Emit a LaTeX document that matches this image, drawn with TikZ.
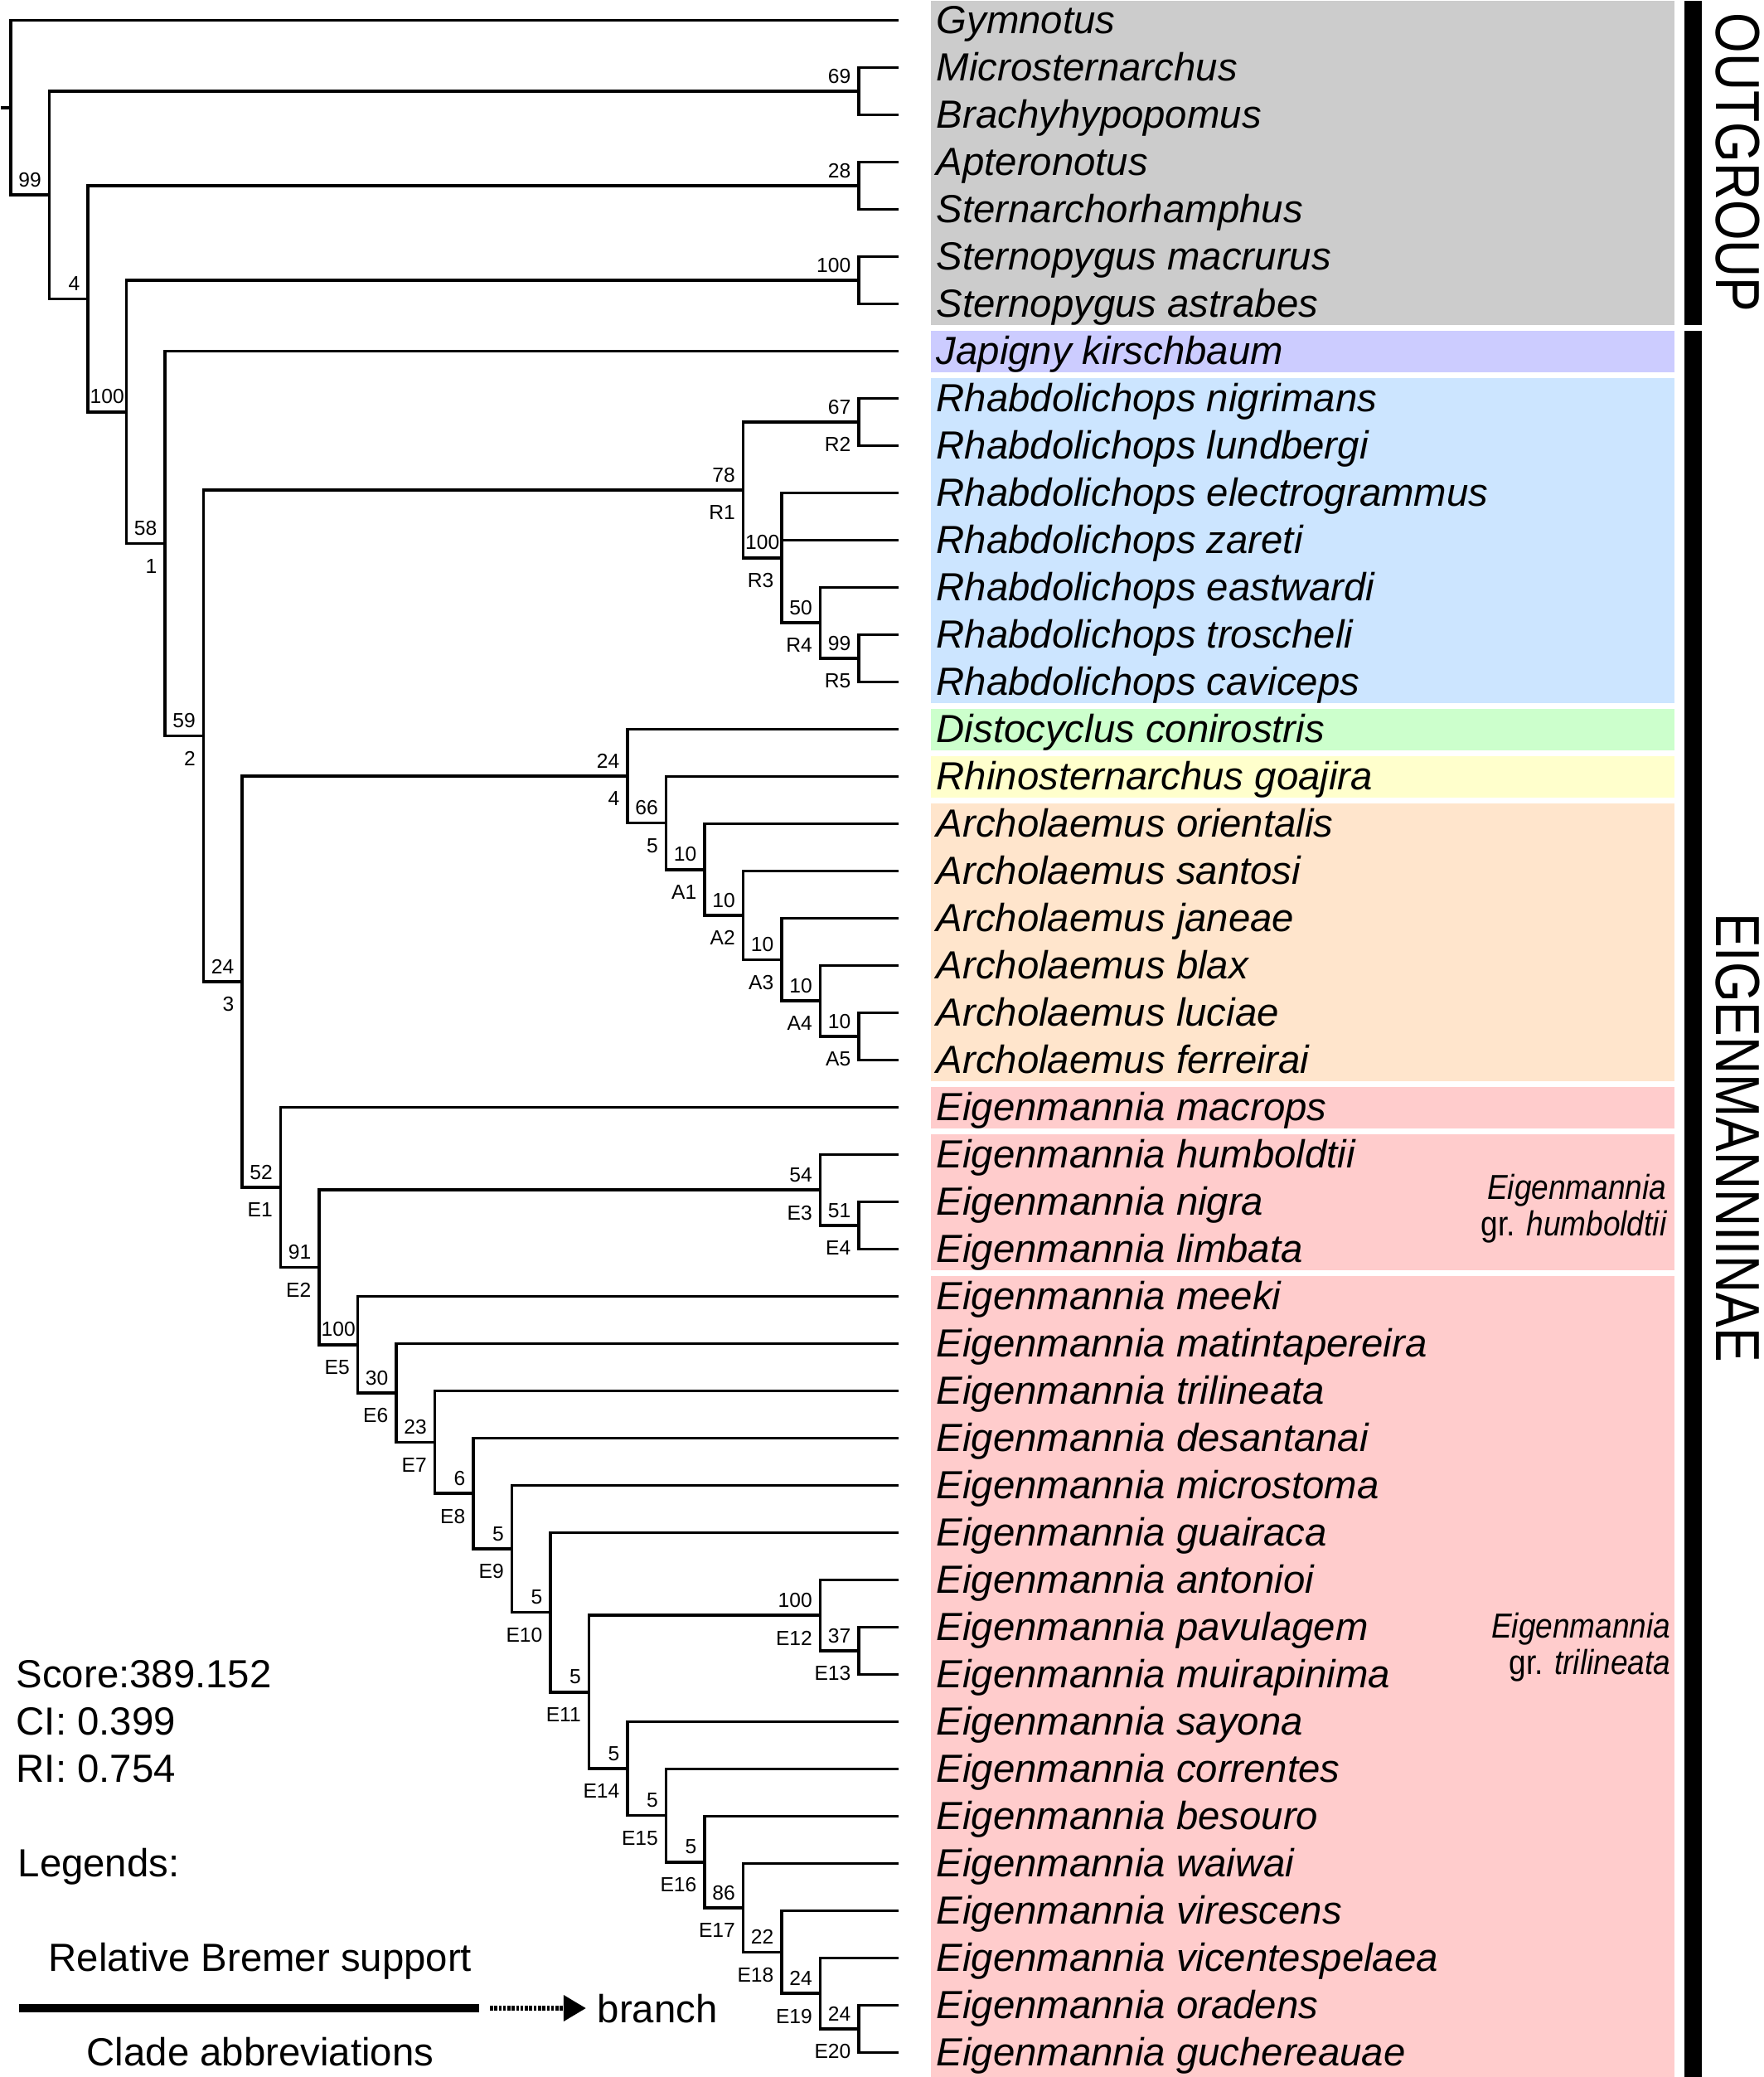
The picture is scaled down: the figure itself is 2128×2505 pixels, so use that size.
\documentclass[tikz,border=0pt]{standalone}
\usepackage{fontspec}
\setmainfont{Liberation Sans}
\usetikzlibrary{calc,arrows.meta}
\definecolor{cgrey}{HTML}{CCCCCC}
\definecolor{cpurple}{HTML}{CCCCFF}
\definecolor{cblue}{HTML}{CCE5FF}
\definecolor{cgreen}{HTML}{CCFFCC}
\definecolor{cyellow}{HTML}{FFFFCC}
\definecolor{corange}{HTML}{FFE5CC}
\definecolor{cpink}{HTML}{FFCCCC}
\begin{document}
\begin{tikzpicture}[x=0.01cm,y=-0.01cm,
  br/.style={line width=1.05pt, line join=miter},
  taxon/.style={anchor=base west, inner sep=0pt, font=\fontsize{13.46pt}{16pt}\selectfont\itshape},
  sup/.style={anchor=south east, inner sep=0pt, font=\fontsize{7pt}{8pt}\selectfont},
  supc/.style={anchor=south, inner sep=0pt, font=\fontsize{7pt}{8pt}\selectfont},
  abb/.style={anchor=north east, inner sep=0pt, font=\fontsize{7pt}{8pt}\selectfont},
  leg/.style={inner sep=0pt, font=\fontsize{13.46pt}{16pt}\selectfont},
  grp/.style={anchor=base east, inner sep=0pt, font=\fontsize{11.9pt}{14pt}\selectfont},
  ttl/.style={rotate=-90, inner sep=0pt, font=\fontsize{21.4pt}{24pt}\selectfont}]
\useasboundingbox (0,0) rectangle (2128,2505);
\fill[white] (0,0) rectangle (2128,2505);
% coloured boxes
\fill[cgrey]   (1123,1)    rectangle (2020,392);
\fill[cpurple] (1123,399)  rectangle (2020,449);
\fill[cblue]   (1123,456)  rectangle (2020,848);
\fill[cgreen]  (1123,855)  rectangle (2020,905);
\fill[cyellow] (1123,912)  rectangle (2020,962);
\fill[corange] (1123,969)  rectangle (2020,1304);
\fill[cpink]   (1123,1311) rectangle (2020,1361);
\fill[cpink]   (1123,1368) rectangle (2020,1532);
\fill[cpink]   (1123,1539) rectangle (2020,2505);
% group bars
\fill[black] (2032,1) rectangle (2053,392);
\fill[black] (2032,399) rectangle (2053,2505);
\node[ttl] (outg) at (2096,196) {\scalebox{0.83}[1]{OUTGROUP}};
\node[ttl] (eigen) at (2096,1372) {\scalebox{0.83}[1]{EIGENMANNIINAE}};
% tips and taxa
\foreach \i in {0,...,43} \coordinate (tip\i) at (1084,{24.5+57*\i});
\foreach \i/\nm in {0/Gymnotus,1/Microsternarchus,2/Brachyhypopomus,3/Apteronotus,4/Sternarchorhamphus,
  5/Sternopygus macrurus,6/Sternopygus astrabes,7/Japigny kirschbaum,8/Rhabdolichops nigrimans,
  9/Rhabdolichops lundbergi,10/Rhabdolichops electrogrammus,11/Rhabdolichops zareti,
  12/Rhabdolichops eastwardi,13/Rhabdolichops troscheli,14/Rhabdolichops caviceps,
  15/Distocyclus conirostris,16/Rhinosternarchus goajira,17/Archolaemus orientalis,
  18/Archolaemus santosi,19/Archolaemus janeae,20/Archolaemus blax,21/Archolaemus luciae,
  22/Archolaemus ferreirai,23/Eigenmannia macrops,24/Eigenmannia humboldtii,25/Eigenmannia nigra,
  26/Eigenmannia limbata,27/Eigenmannia meeki,28/Eigenmannia matintapereira,29/Eigenmannia trilineata,
  30/Eigenmannia desantanai,31/Eigenmannia microstoma,32/Eigenmannia guairaca,33/Eigenmannia antonioi,
  34/Eigenmannia pavulagem,35/Eigenmannia muirapinima,36/Eigenmannia sayona,37/Eigenmannia correntes,
  38/Eigenmannia besouro,39/Eigenmannia waiwai,40/Eigenmannia virescens,41/Eigenmannia vicentespelaea,
  42/Eigenmannia oradens,43/Eigenmannia guchereauae}
  \node[taxon] (t\i) at (1129,{40.5+57*\i}) {\nm};
% internal nodes: name / column / row
\foreach \n/\k/\r in {root/0/1.8481253,n99/1/3.6962507,P1/22/1.5,n4o/2/5.8925014,P2/22/3.5,
  n100/3/8.2850027,P3/22/5.5,n1/4/11.0700054,n2/5/15.1400108,R1/19/9.9375,R2/22/8.5,
  R3/20/11.375,R4/21/12.75,R5/22/13.5,n3/6/20.3425217,n4/16/15.9921875,n5/17/16.984375,
  A1/18/17.96875,A2/19/18.9375,A3/20/19.875,A4/21/20.75,A5/22/21.5,E1/7/24.6928558,
  E2/8/26.3857117,E3/21/24.75,E4/22/25.5,E5/9/28.0214233,E6/10/29.0428467,E7/11/30.0856934,
  E8/12/31.1713867,E9/13/32.3427734,E10/14/33.6855469,E11/15/35.3710938,E12/21/33.75,
  E13/22/34.5,E14/16/36.9921875,E15/17/37.984375,E16/18/38.96875,E17/19/39.9375,
  E18/20/40.875,E19/21/41.75,E20/22/42.5}
  \coordinate (\n) at ({13+46.5*\k},{24.5+57*\r});
\coordinate (stub) at ($(root)+(-12,0)$);
\draw[br] (stub) -- (root);
% branches
\foreach \p/\c in {root/tip0,root/n99,n99/P1,n99/n4o,P1/tip1,P1/tip2,n4o/P2,n4o/n100,P2/tip3,P2/tip4,
  n100/P3,n100/n1,P3/tip5,P3/tip6,n1/tip7,n1/n2,n2/R1,n2/n3,R1/R2,R1/R3,R2/tip8,R2/tip9,
  R3/tip10,R3/tip11,R3/R4,R4/tip12,R4/R5,R5/tip13,R5/tip14,n3/n4,n3/E1,n4/tip15,n4/n5,
  n5/tip16,n5/A1,A1/tip17,A1/A2,A2/tip18,A2/A3,A3/tip19,A3/A4,A4/tip20,A4/A5,A5/tip21,A5/tip22,
  E1/tip23,E1/E2,E2/E3,E2/E5,E3/tip24,E3/E4,E4/tip25,E4/tip26,E5/tip27,E5/E6,E6/tip28,E6/E7,
  E7/tip29,E7/E8,E8/tip30,E8/E9,E9/tip31,E9/E10,E10/tip32,E10/E11,E11/E12,E11/E14,
  E12/tip33,E12/E13,E13/tip34,E13/tip35,E14/tip36,E14/E15,E15/tip37,E15/E16,E16/tip38,E16/E17,
  E17/tip39,E17/E18,E18/tip40,E18/E19,E19/tip41,E19/E20,E20/tip42,E20/tip43}
  \draw[br] (\p) |- (\c);
% support values
\foreach \n/\s in {n99/99,n4o/4,n1/58,n2/59,n3/24,P1/69,P2/28,P3/100,R1/78,R2/67,R4/50,R5/99,
  n4/24,n5/66,A1/10,A2/10,A3/10,A4/10,A5/10,E1/52,E2/91,E3/54,E4/51,E6/30,E7/23,E8/6,E9/5,
  E10/5,E11/5,E12/100,E13/37,E14/5,E15/5,E16/5,E17/86,E18/22,E19/24,E20/24}
  \node[sup] (s\n) at ($(\n)+(-9,-9)$) {\s};
\foreach \p/\n in {n4o/n100,R1/R3,E2/E5}
  \node[supc] (s\n) at ($(\p |- \n)!0.5!(\n)+(0,-9)$) {100};
% clade abbreviations
\foreach \n/\a in {n1/1,n2/2,n3/3,n4/4,n5/5,R1/R1,R2/R2,R3/R3,R4/R4,R5/R5,A1/A1,A2/A2,A3/A3,
  A4/A4,A5/A5,E1/E1,E2/E2,E3/E3,E4/E4,E5/E5,E6/E6,E7/E7,E8/E8,E9/E9,E10/E10,E11/E11,E12/E12,
  E13/E13,E14/E14,E15/E15,E16/E16,E17/E17,E18/E18,E19/E19,E20/E20}
  \node[abb] (a\n) at ($(\n)+(-9,18)$) {\a};
% group labels
\node[grp] (g1a) at (2011,1446.7) {\scalebox{0.885}[1]{\itshape Eigenmannia}};
\node[grp] (g1b) at (2011,1490.7) {\scalebox{0.885}[1]{gr. \itshape humboldtii}};
\node[grp] (g2a) at (2016,1975.5) {\scalebox{0.885}[1]{\itshape Eigenmannia}};
\node[grp] (g2b) at (2016,2019.5) {\scalebox{0.885}[1]{gr. \itshape trilineata}};
% legend
\node[leg, anchor=base west] (score) at (19,2035.5) {Score:389.152};
\node[leg, anchor=base west] (ci) at (19,2092.5) {CI: 0.399};
\node[leg, anchor=base west] (ri) at (19,2149.5) {RI: 0.754};
\node[leg, anchor=base west] (legs) at (21,2263.5) {Legends:};
\node[leg, anchor=base] (rbs) at (314,2377.5) {Relative Bremer support};
\coordinate (l1) at (23,2422);
\coordinate (l2) at (578,2422);
\draw[line width=2.6pt] (l1) -- (l2);
\coordinate (d1) at (591,2422);
\coordinate (d2) at (707,2422);
\draw[line width=1.8pt, dash pattern=on 1pt off 0.5pt, -{Triangle[length=0.27cm,width=0.30cm]}] (d1) -- (d2);
\node[leg, anchor=base west] (brn) at (720,2439) {branch};
\node[leg, anchor=base] (cab) at (314,2491.5) {Clade abbreviations};
\end{tikzpicture}
\end{document}
